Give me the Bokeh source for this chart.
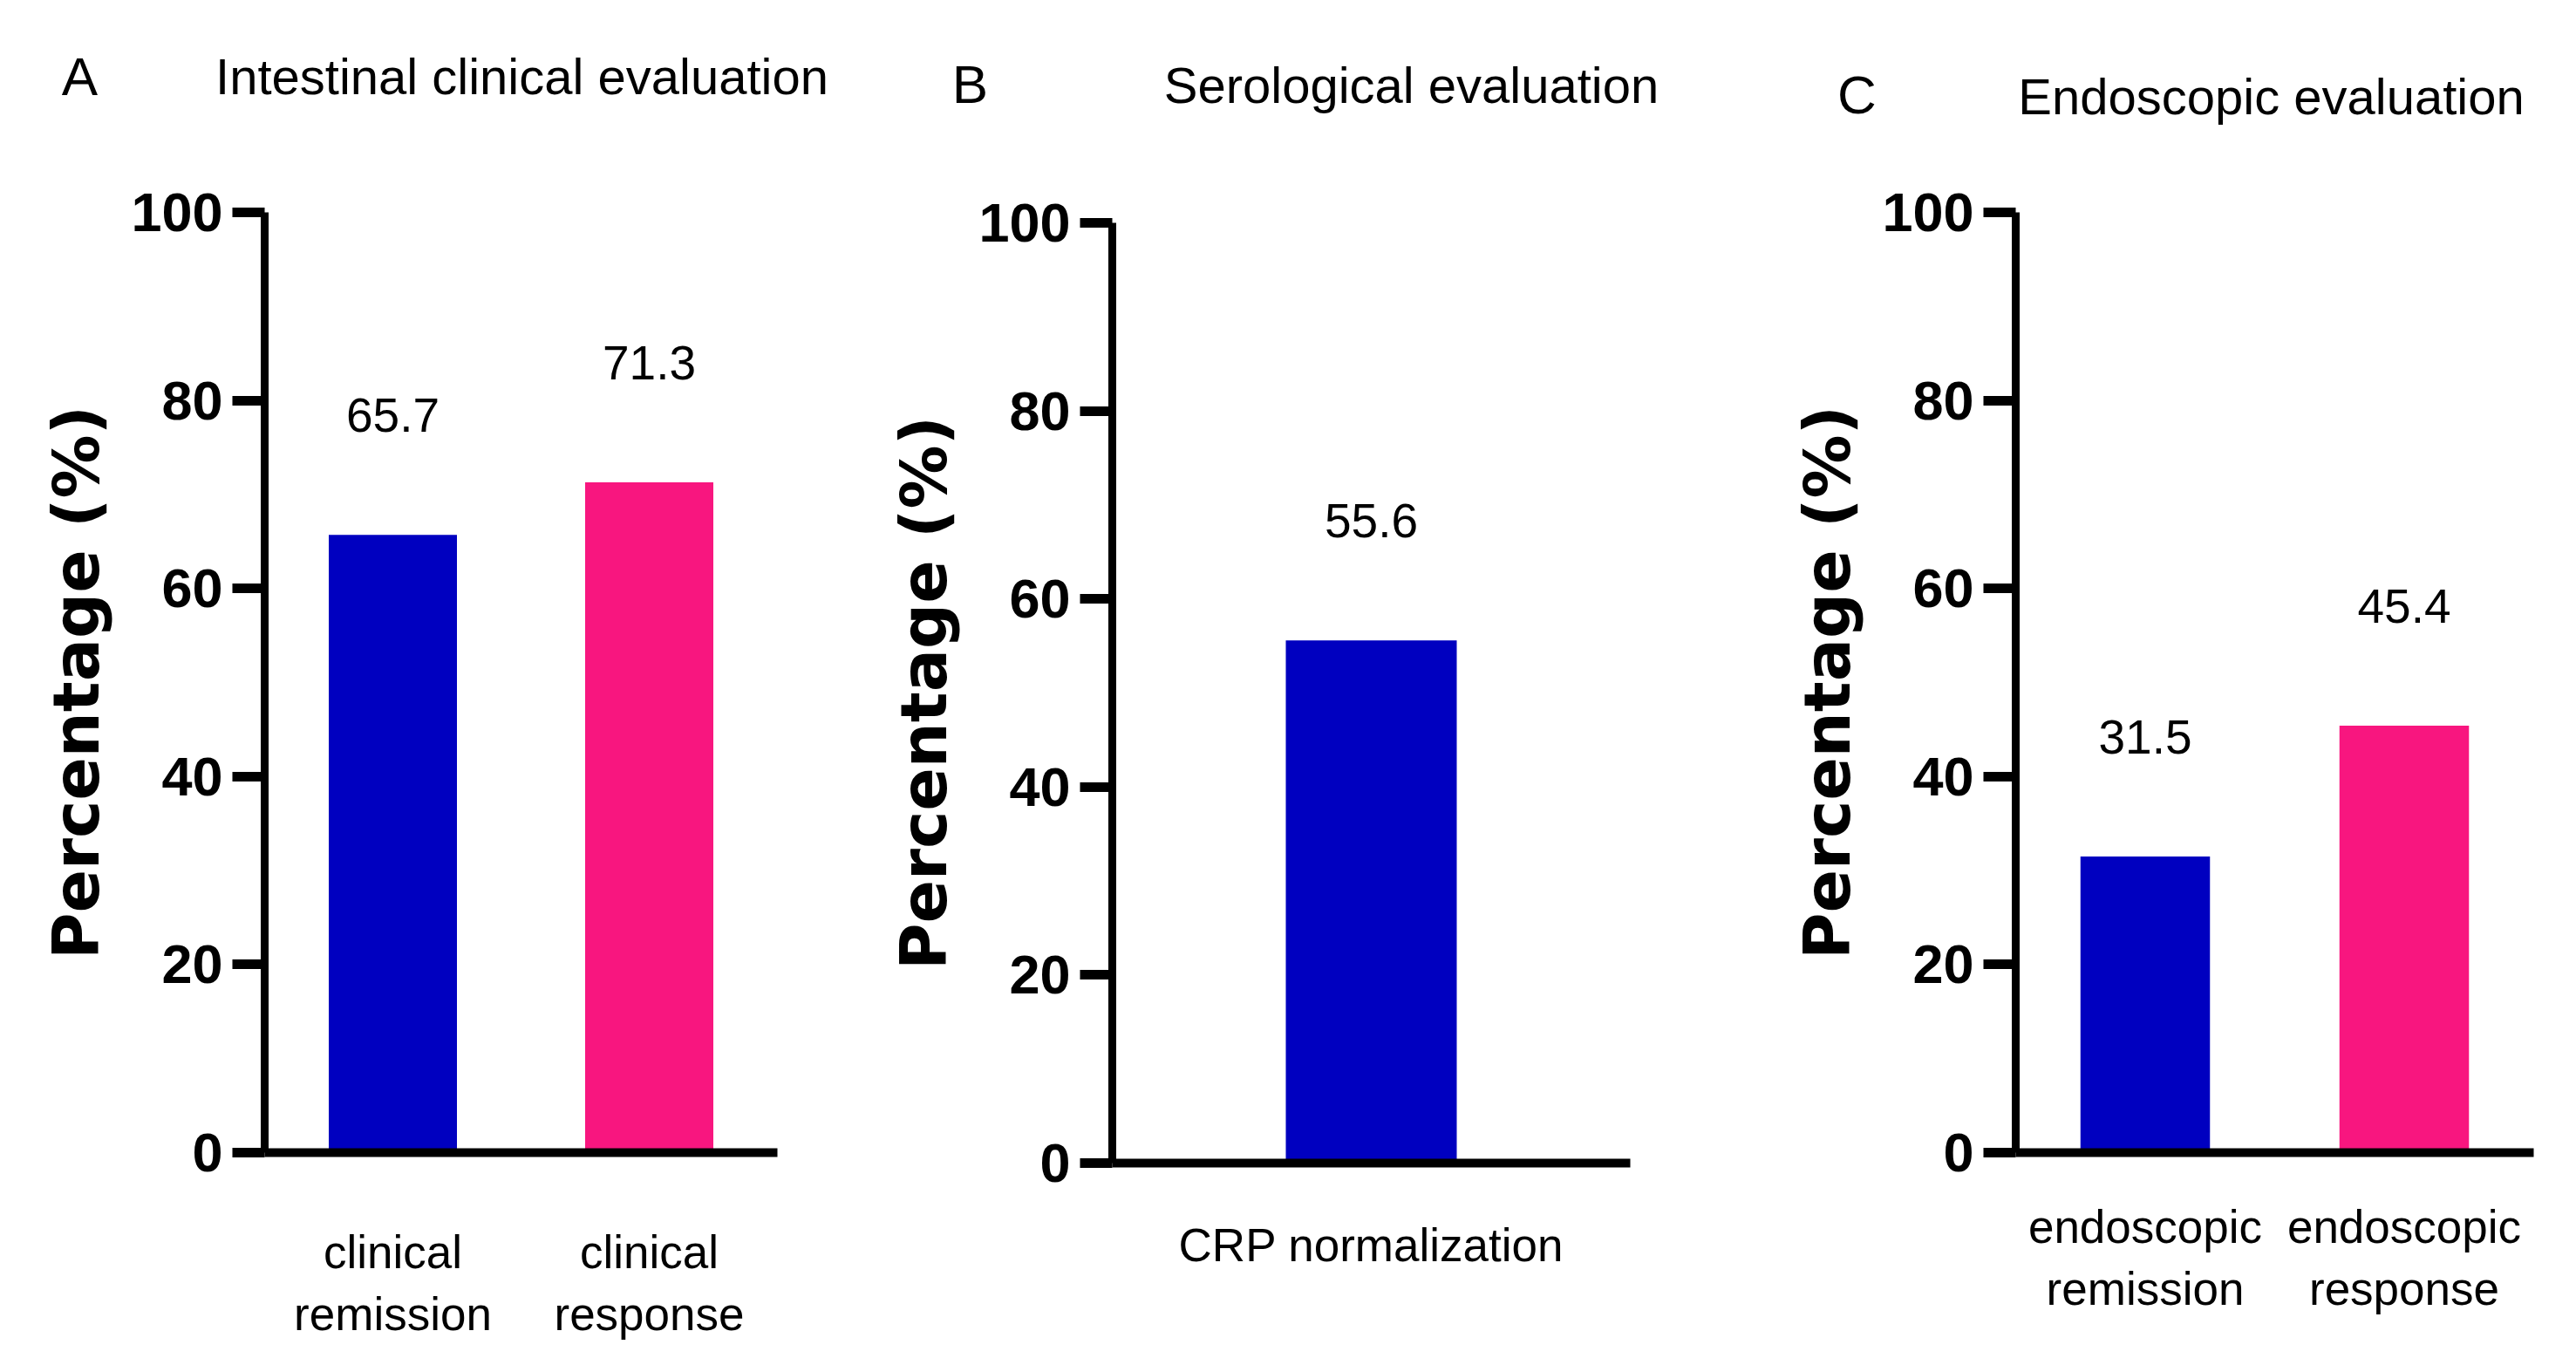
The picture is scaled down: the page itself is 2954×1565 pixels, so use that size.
from bokeh.plotting import figure
from bokeh.layouts import row, column
from bokeh.models import FactorRange, Range1d, FixedTicker, Label, ColumnDataSource, Spacer
from bokeh.embed import file_html
from bokeh.resources import INLINE
from bokeh.core.properties import value

# ---------------- data ----------------
letters = ["A", "B", "C"]
titles = ["Intestinal clinical evaluation", "Serological evaluation", "Endoscopic evaluation"]

cats_a = ["clinical\nremission", "clinical\nresponse"]
vals_a = [65.7, 71.3]

cats_b = ["CRP normalization"]
vals_b = [55.6]

cats_c = ["endoscopic\nremission", "endoscopic\nresponse"]
vals_c = [31.5, 45.4]

y_ticks = [0, 20, 40, 60, 80, 100]
y_title = "Percentage (%)"

# ---------------- style ----------------
BLUE = "#0000C0"
PINK = "#F8167F"
FONT = "Liberation Sans"
WIDE_BOLD = "DejaVu Sans"
HEADER_H = 170
PANEL_H = 1379
B_DROP = 12


def make_panel(cats, vals, colors, bar_w, width, height, borders, x_standoff):
    bl, br, bt, bb = borders
    p = figure(x_range=FactorRange(factors=cats, range_padding=0),
               y_range=Range1d(0, 100),
               width=width, height=height,
               output_backend="svg", toolbar_location=None,
               min_border_left=bl, min_border_right=br,
               min_border_top=bt, min_border_bottom=bb)
    p.outline_line_color = None
    p.xgrid.visible = False
    p.ygrid.visible = False
    p.background_fill_color = "white"
    p.border_fill_color = "white"

    src = ColumnDataSource(dict(cat=cats, val=vals, color=colors,
                                label=[f"{v:.1f}" for v in vals]))
    p.vbar(x="cat", top="val", width=bar_w, fill_color="color",
           line_color=None, source=src)
    p.text(x="cat", y="val", text="label", source=src, y_offset=-137,
           text_align="center", text_baseline="alphabetic",
           text_font=value(FONT), text_font_size="55px", text_color="black")

    # y axis
    ya = p.yaxis[0]
    ya.ticker = FixedTicker(ticks=y_ticks)
    ya.axis_line_width = 9
    ya.axis_line_color = "black"
    ya.major_tick_line_width = 11
    ya.major_tick_line_color = "black"
    ya.major_tick_out = 37
    ya.major_tick_in = 0
    ya.minor_tick_line_color = None
    ya.major_label_standoff = 11
    ya.major_label_text_font = FONT
    ya.major_label_text_font_style = "bold"
    ya.major_label_text_font_size = "63px"
    ya.major_label_text_color = "black"
    ya.axis_label = y_title
    ya.axis_label_text_font = WIDE_BOLD
    ya.axis_label_text_font_style = "bold"
    ya.axis_label_text_font_size = "73px"
    ya.axis_label_text_color = "black"
    ya.axis_label_standoff = 17

    # x axis
    xa = p.xaxis[0]
    xa.axis_line_width = 10
    xa.axis_line_color = "black"
    xa.major_tick_line_color = None
    xa.major_tick_out = 0
    xa.major_tick_in = 0
    xa.minor_tick_line_color = None
    xa.major_label_standoff = x_standoff
    xa.major_label_text_font = FONT
    xa.major_label_text_font_size = "53px"
    xa.major_label_text_line_height = 1.22
    xa.major_label_text_color = "black"
    return p


W_A, W_B, W_C = 978, 1050, 904
pa = make_panel(cats_a, vals_a, [BLUE, PINK], 0.5, W_A, PANEL_H,
                (303, 87, 73, 228), 84)
pb = make_panel(cats_b, vals_b, [BLUE], 0.33, W_B, PANEL_H - B_DROP,
                (297, 159, 73, 216), 64)
pc = make_panel(cats_c, vals_c, [BLUE, PINK], 0.5, W_C, PANEL_H,
                (283, 27, 73, 228), 55)

# ---------------- header with panel letters and titles ----------------
total_w = W_A + W_B + W_C
header = figure(width=total_w, height=HEADER_H,
                x_range=Range1d(0, total_w), y_range=Range1d(HEADER_H, 0),
                x_axis_location=None, y_axis_location=None,
                output_backend="svg", toolbar_location=None,
                min_border=0)
header.outline_line_color = None
header.xgrid.visible = False
header.ygrid.visible = False

letter_pos = [(91, 87), (1112, 96), (2129, 108)]
title_pos = [(598, 87), (1618, 97), (2604, 110)]
for txt, (x, y) in zip(letters, letter_pos):
    header.add_layout(Label(x=x, y=y, text=txt, text_align="center",
                            text_baseline="alphabetic", text_font=FONT,
                            text_font_size="62px", text_color="black"))
for txt, (x, y) in zip(titles, title_pos):
    header.add_layout(Label(x=x, y=y, text=txt, text_align="center",
                            text_baseline="alphabetic", text_font=FONT,
                            text_font_size="58px", text_color="black"))

panels = row(pa, column(Spacer(height=B_DROP, width=W_B), pb, spacing=0), pc, spacing=0)
layout = column(header, panels, spacing=0)
open("out.html", "w").write(file_html(layout, INLINE))
